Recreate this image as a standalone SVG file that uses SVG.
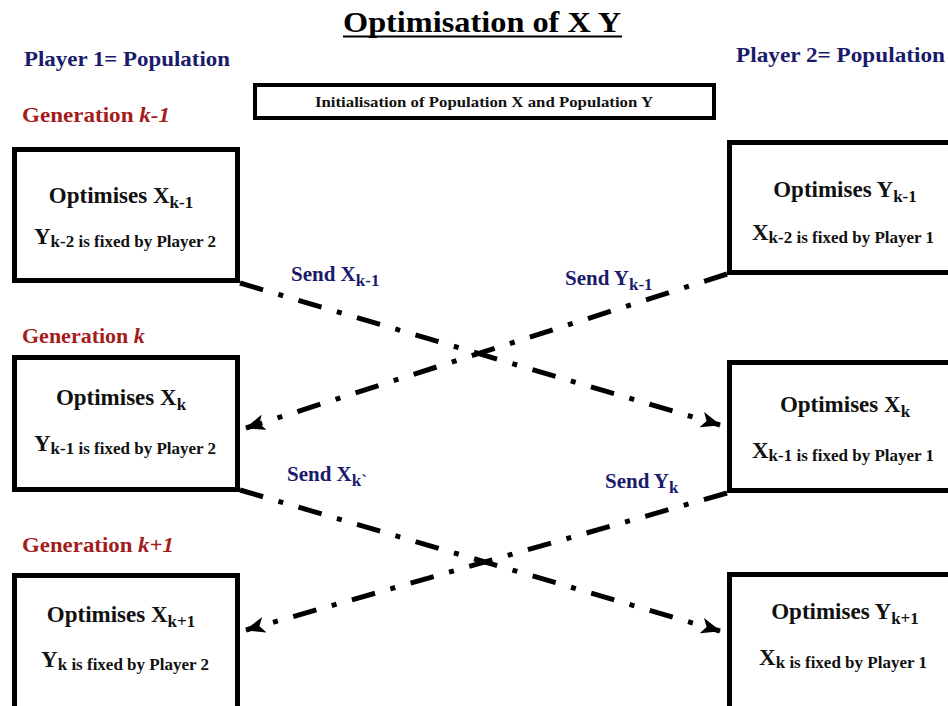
<svg xmlns="http://www.w3.org/2000/svg" width="948" height="706" viewBox="0 0 948 706">
  <style>
    .box { fill: #ffffff; stroke: #000000; stroke-width: 5; }
    .init { fill: #ffffff; stroke: #000000; stroke-width: 4; }
    .t { font-family: "Liberation Serif", "Times New Roman", serif; font-weight: bold; }
    .node { font-size: 23px; fill: #111111; text-anchor: middle; }
    .small { font-size: 17px; }
    .player { font-size: 22px; fill: #1b1b6b; }
    .gen { font-size: 22px; fill: #a31d1d; }
    .send { font-size: 21px; fill: #1b1b6b; }
    .flow { fill: none; stroke: #000000; stroke-width: 5; stroke-dasharray: 24 16 5 16; stroke-linecap: butt; marker-end: url(#head); }
  </style>
  <defs>
    <marker id="head" markerUnits="userSpaceOnUse" viewBox="0 0 20 16" refX="19" refY="8" markerWidth="20" markerHeight="16" orient="auto">
      <path d="M0,0 L20,8 L0,16 L5,8 z" fill="#000000"/>
    </marker>
  </defs>

  <rect width="948" height="706" fill="#ffffff"/>

  <!-- headings -->
  <g id="title">
    <text class="t" x="482" y="32" font-size="30" text-anchor="middle" textLength="278" lengthAdjust="spacingAndGlyphs" fill="#000000">Optimisation of X Y</text>
    <line x1="343" y1="36.5" x2="622" y2="36.5" stroke="#000000" stroke-width="2"/>
  </g>
  <g id="player1"><text class="t player" x="24" y="66" textLength="206" lengthAdjust="spacingAndGlyphs">Player 1= Population</text></g>
  <g id="player2"><text class="t player" x="736" y="62" textLength="209" lengthAdjust="spacingAndGlyphs">Player 2= Population</text></g>
  <g id="gen-k-1"><text class="t gen" x="22" y="122" textLength="148" lengthAdjust="spacingAndGlyphs">Generation <tspan font-style="italic">k-1</tspan></text></g>
  <g id="gen-k"><text class="t gen" x="22" y="343">Generation <tspan font-style="italic">k</tspan></text></g>
  <g id="gen-k+1"><text class="t gen" x="22" y="552" textLength="152" lengthAdjust="spacingAndGlyphs">Generation <tspan font-style="italic">k+1</tspan></text></g>

  <!-- initialisation -->
  <g id="init">
    <rect class="init" x="255" y="85" width="459" height="33"/>
    <text class="t" x="484" y="107" font-size="15" text-anchor="middle" textLength="338" lengthAdjust="spacingAndGlyphs" fill="#111111">Initialisation of Population X and Population Y</text>
  </g>

  <!-- connectors -->
  <g id="connectors">
    <line class="flow" x1="240" y1="283" x2="720" y2="425"/>
    <line class="flow" x1="727" y1="274" x2="246" y2="428"/>
    <line class="flow" x1="240" y1="490" x2="720" y2="631"/>
    <line class="flow" x1="727" y1="493" x2="246" y2="630"/>
    <text class="t send" x="291" y="281">Send X<tspan dy="5" font-size="17">k-1</tspan></text>
    <text class="t send" x="565" y="285">Send Y<tspan dy="5" font-size="17">k-1</tspan></text>
    <text class="t send" x="287" y="481">Send X<tspan dy="5" font-size="17">k`</tspan></text>
    <text class="t send" x="605" y="488">Send Y<tspan dy="5" font-size="17">k</tspan></text>
  </g>

  <!-- Player 1 side -->
  <g id="p1-gen-k-1">
    <rect class="box" x="14.5" y="149.5" width="223" height="131"/>
    <text class="t node" x="121" y="203">Optimises X<tspan dy="5" class="small">k-1</tspan></text>
    <text class="t node" x="125" y="244">Y<tspan dy="3" class="small">k-2 is fixed by Player 2</tspan></text>
  </g>
  <g id="p1-gen-k">
    <rect class="box" x="14.5" y="357.5" width="223" height="132"/>
    <text class="t node" x="121" y="405">Optimises X<tspan dy="5" class="small">k</tspan></text>
    <text class="t node" x="125" y="451">Y<tspan dy="3" class="small">k-1 is fixed by Player 2</tspan></text>
  </g>
  <g id="p1-gen-k+1">
    <rect class="box" x="14.5" y="575.5" width="223" height="200"/>
    <text class="t node" x="121" y="622">Optimises X<tspan dy="5" class="small">k+1</tspan></text>
    <text class="t node" x="125" y="667">Y<tspan dy="3" class="small">k is fixed by Player 2</tspan></text>
  </g>

  <!-- Player 2 side -->
  <g id="p2-gen-k-1">
    <rect class="box" x="729.5" y="142.5" width="240" height="130"/>
    <text class="t node" x="845" y="197">Optimises Y<tspan dy="5" class="small">k-1</tspan></text>
    <text class="t node" x="843" y="240">X<tspan dy="3" class="small">k-2 is fixed by Player 1</tspan></text>
  </g>
  <g id="p2-gen-k">
    <rect class="box" x="729.5" y="362.5" width="240" height="128"/>
    <text class="t node" x="845" y="412">Optimises X<tspan dy="5" class="small">k</tspan></text>
    <text class="t node" x="843" y="458">X<tspan dy="3" class="small">k-1 is fixed by Player 1</tspan></text>
  </g>
  <g id="p2-gen-k+1">
    <rect class="box" x="729.5" y="574.5" width="240" height="200"/>
    <text class="t node" x="845" y="619">Optimises Y<tspan dy="5" class="small">k+1</tspan></text>
    <text class="t node" x="843" y="665">X<tspan dy="3" class="small">k is fixed by Player 1</tspan></text>
  </g>
</svg>
